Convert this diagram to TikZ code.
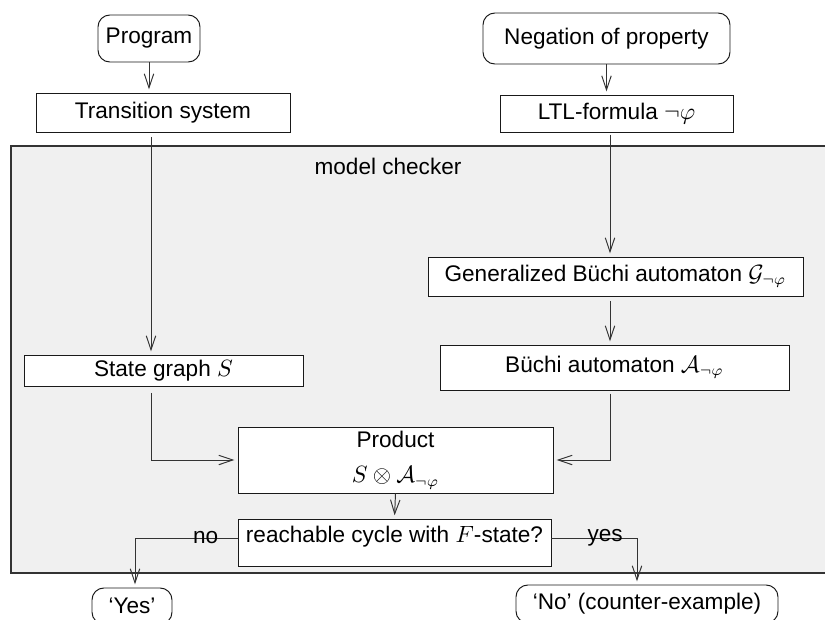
\documentclass[tikz,border=0pt]{standalone}
\usepackage{fontspec}
\setmainfont{Liberation Sans}
\usetikzlibrary{arrows.meta}
\begin{document}
\begin{tikzpicture}[x=0.465pt,y=-0.465pt,
  font=\fontsize{10.5}{12.5}\selectfont,
  box/.style={draw=black!90, fill=white, line width=0.45pt, inner sep=0pt, align=center},
  rbox/.style={box, rounded corners=5.5pt},
  conn/.style={draw=black!80, line width=0.45pt, shorten >=1.5pt,
    -{Straight Barb[length=6.5pt,width=4.4pt,line width=0.45pt]}},
  lab/.style={inner sep=0pt, font=\fontsize{10.5}{12.5}\selectfont}]
\useasboundingbox (0,0) rectangle (825,619);
% model checker region
\path[fill=black!6, draw=black!80, line width=0.5pt] (11,146) rectangle (845,573);
\node[lab] (mc) at (388,166) {model checker};
% coordinates for columns and rows
\coordinate (xl) at (151,0);
\coordinate (xr) at (610,0);
\coordinate (xno) at (135,0);
\coordinate (xyes) at (637,0);
\coordinate (yreach) at (0,538);
% nodes
\node[rbox, minimum width=102*0.465pt, minimum height=47*0.465pt] (prog) at (149,38.5) {Program};
\node[box, minimum width=254*0.465pt, minimum height=39*0.465pt] (trans) at (163,112.5) {Transition system};
\node[rbox, minimum width=247*0.465pt, minimum height=51*0.465pt] (neg) at (606.5,38.5) {Negation of property};
\node[box, minimum width=233*0.465pt, minimum height=37*0.465pt] (ltl) at (616.5,113.5) {LTL-formula $\neg\varphi$};
\node[box, minimum width=375*0.465pt, minimum height=39*0.465pt] (gen) at (615.5,276.5) {Generalized Büchi automaton $\mathcal{G}_{\neg\varphi}$};
\node[box, minimum width=349*0.465pt, minimum height=45*0.465pt] (buchi) at (614.5,367.5) {Büchi automaton $\mathcal{A}_{\neg\varphi}$};
\node[box, minimum width=279*0.465pt, minimum height=31*0.465pt] (state) at (163.5,370.5) {State graph $S$};
\node[box, minimum width=315*0.465pt, minimum height=66*0.465pt] (prod) at (395.5,460) {Product\\[4pt] $S\otimes\mathcal{A}_{\neg\varphi}$};
\node[box, minimum width=313*0.465pt, minimum height=47*0.465pt, text depth=7.3pt] (reach) at (394.5,542.5) {reachable cycle with $F$-state?};
\node[rbox, minimum width=80*0.465pt, minimum height=36*0.465pt] (yes) at (132,606) {`Yes'};
\node[rbox, minimum width=262*0.465pt, minimum height=38*0.465pt] (no) at (647,604) {`No' (counter-example)};
% connectors
\draw[conn] (prog.south) -- (prog.south |- trans.north);
\draw[conn, shorten <=2pt] (trans.south -| xl) -- (state.north -| xl);
\draw[conn] (neg.south) -- (neg.south |- ltl.north);
\draw[conn, shorten <=1pt] (ltl.south -| xr) -- (gen.north -| xr);
\draw[conn, shorten <=2pt] (gen.south -| xr) -- (buchi.north -| xr);
\draw[conn, shorten <=3pt] (state.south -| xl) |- (prod.west);
\draw[conn, shorten <=1.5pt] (buchi.south -| xr) |- (prod.east);
\draw[conn] (prod.south) -- (reach.north);
\draw[conn] (reach.west |- yreach) -| (yes.north -| xno) node[lab, pos=0.155] (nolab) {no};
\draw[conn] (reach.east |- yreach) -| (no.north -| xyes) node[lab, pos=0.314] (yeslab) {yes};
\end{tikzpicture}
\end{document}
